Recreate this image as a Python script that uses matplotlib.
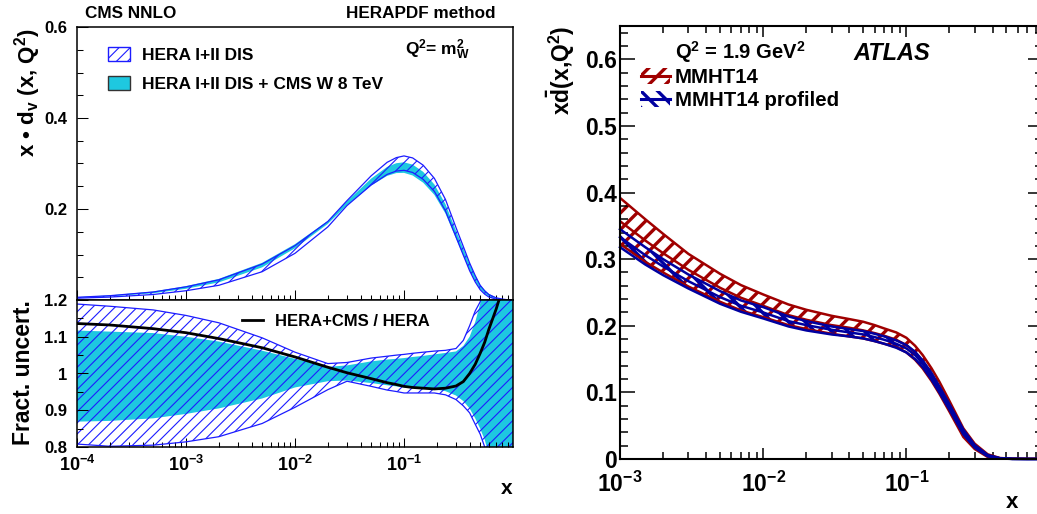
"""
Two PDF panels side by side: CMS W-asymmetry impact on x*d_v (left, with
fractional uncertainty ratio panel) and ATLAS profiled MMHT14 xdbar (right).
"""

import numpy as np
import matplotlib
matplotlib.use("Agg")
import matplotlib.pyplot as plt
from matplotlib.lines import Line2D
from matplotlib.patches import Patch
from matplotlib.ticker import (FixedLocator, FuncFormatter, LogLocator,
                               MultipleLocator, NullFormatter)

plt.rcParams.update({
    "font.family": ["Liberation Sans", "DejaVu Sans"],
    "font.weight": "bold",
    "mathtext.fontset": "custom",
    "mathtext.rm": "Liberation Sans:bold",
    "mathtext.bf": "Liberation Sans:bold",
    "mathtext.it": "Liberation Sans:italic:bold",
    "mathtext.sf": "Liberation Sans:bold",
    "hatch.linewidth": 0.8,
})

# ---- left panel: x*d_v at Q^2 = m_W^2 (HERAPDF method) ----
x_hera = [1e-4, 2e-4, 5e-4, 1e-3, 2e-3, 5e-3, 1e-2, 2e-2, 3e-2, 5e-2, 7e-2,
          0.085, 0.1, 0.12, 0.15, 0.19, 0.24, 0.3, 0.35, 0.4, 0.45, 0.5,
          0.55, 0.6, 0.7, 0.8, 0.9, 1.0]
hera_xdv = [0.005, 0.008, 0.015, 0.025, 0.039, 0.072, 0.113, 0.168, 0.212,
            0.262, 0.289, 0.298, 0.301, 0.296, 0.280, 0.252, 0.208, 0.149,
            0.108, 0.072, 0.046, 0.027, 0.016, 0.009, 0.003, 0.001, 0.0002,
            0.0]
# fractional uncertainties (lower panel)
hera_hi = [1.189, 1.183, 1.173, 1.158, 1.138, 1.097, 1.058, 1.027, 1.030,
           1.042, 1.047, 1.050, 1.052, 1.055, 1.058, 1.061, 1.063, 1.068,
           1.09, 1.13, 1.17, 1.195, 1.26, 1.35, 1.6, 1.9, 2.2, 2.4]
hera_lo = [0.808, 0.802, 0.805, 0.814, 0.828, 0.864, 0.908, 0.956, 0.979,
           0.965, 0.955, 0.951, 0.947, 0.947, 0.947, 0.947, 0.942, 0.929,
           0.912, 0.893, 0.862, 0.835, 0.80, 0.74, 0.60, 0.45, 0.30, 0.20]
cms_hi = [1.117, 1.114, 1.110, 1.100, 1.087, 1.062, 1.040, 1.018, 1.022,
          1.033, 1.038, 1.040, 1.042, 1.045, 1.048, 1.052, 1.056, 1.060,
          1.075, 1.10, 1.14, 1.19, 1.25, 1.33, 1.55, 1.8, 2.1, 2.3]
cms_lo = [0.869, 0.871, 0.878, 0.890, 0.905, 0.932, 0.962, 0.979, 0.981,
          0.974, 0.968, 0.965, 0.962, 0.961, 0.959, 0.957, 0.952, 0.940,
          0.925, 0.905, 0.878, 0.850, 0.82, 0.78, 0.65, 0.50, 0.35, 0.25]
ratio = [1.136, 1.132, 1.122, 1.111, 1.095, 1.070, 1.045, 1.017, 1.002,
         0.986, 0.975, 0.970, 0.965, 0.962, 0.960, 0.958, 0.960, 0.966,
         0.978, 1.0, 1.025, 1.055, 1.085, 1.12, 1.175, 1.23, 1.3, 1.4]

# ---- right panel: x*dbar at Q^2 = 1.9 GeV^2 (ATLAS) ----
x_atl = [1e-3, 1.5e-3, 2e-3, 3e-3, 5e-3, 7e-3, 1e-2, 1.5e-2, 2e-2, 3e-2,
         4e-2, 5e-2, 6e-2, 7e-2, 8.5e-2, 0.1, 0.115, 0.13, 0.15, 0.17, 0.2,
         0.25, 0.3, 0.37, 0.45, 0.55, 0.7, 0.9]
mmht_hi = [0.392, 0.360, 0.338, 0.308, 0.278, 0.261, 0.247, 0.232, 0.224,
           0.215, 0.210, 0.206, 0.201, 0.196, 0.190, 0.182, 0.170, 0.156,
           0.136, 0.116, 0.087, 0.046, 0.023, 0.007, 0.0015, 0.0003, 0.0,
           0.0]
mmht_c = [0.357, 0.328, 0.309, 0.284, 0.257, 0.242, 0.230, 0.216, 0.209,
          0.201, 0.197, 0.193, 0.189, 0.185, 0.179, 0.171, 0.160, 0.146,
          0.127, 0.107, 0.079, 0.040, 0.019, 0.005, 0.001, 0.0002, 0.0, 0.0]
mmht_lo = [0.323, 0.296, 0.280, 0.259, 0.236, 0.223, 0.213, 0.201, 0.195,
           0.188, 0.184, 0.181, 0.177, 0.173, 0.168, 0.160, 0.149, 0.136,
           0.117, 0.098, 0.071, 0.033, 0.015, 0.003, 0.0005, 0.0001, 0.0,
           0.0]
prof_hi = [0.345, 0.318, 0.300, 0.277, 0.252, 0.238, 0.228, 0.214, 0.207,
           0.199, 0.195, 0.192, 0.188, 0.184, 0.178, 0.171, 0.161, 0.148,
           0.129, 0.109, 0.082, 0.044, 0.021, 0.006, 0.0012, 0.0002, 0.0,
           0.0]
prof_c = [0.333, 0.306, 0.289, 0.267, 0.243, 0.230, 0.220, 0.207, 0.201,
          0.194, 0.190, 0.187, 0.183, 0.179, 0.173, 0.166, 0.156, 0.143,
          0.124, 0.105, 0.078, 0.040, 0.019, 0.005, 0.001, 0.0002, 0.0, 0.0]
prof_lo = [0.318, 0.292, 0.276, 0.256, 0.233, 0.221, 0.211, 0.199, 0.193,
           0.187, 0.184, 0.181, 0.177, 0.173, 0.167, 0.160, 0.150, 0.138,
           0.119, 0.100, 0.074, 0.037, 0.017, 0.004, 0.0008, 0.0001, 0.0,
           0.0]

CYAN = "#1ec8e0"
HBLUE = "#1c1cff"
RED = "#a00000"
DBLUE = "#0000a0"

W, H = 1037, 514
fig = plt.figure(figsize=(W / 100, H / 100), dpi=100)


def px_axes(left, top, right, bottom):
    """Axes placed by pixel edges measured from the top-left corner."""
    return fig.add_axes([left / W, 1 - bottom / H, (right - left) / W,
                         (bottom - top) / H])


def hatch_lw(artist, lw):
    if hasattr(artist, "set_hatch_linewidth"):
        artist.set_hatch_linewidth(lw)


def log_xaxis(ax, lo, hi, majors):
    ax.set_xscale("log")
    ax.set_xlim(lo, hi)
    ax.xaxis.set_major_locator(FixedLocator(majors))
    ax.xaxis.set_major_formatter(
        FuncFormatter(lambda v, _: r"$10^{%d}$" % round(np.log10(v))))
    ax.xaxis.set_minor_locator(LogLocator(base=10, subs=np.arange(2, 10),
                                          numticks=20))
    ax.xaxis.set_minor_formatter(NullFormatter())


xh = np.array(x_hera)
xdv = np.array(hera_xdv)
cms_xdv = xdv * np.array(ratio)

# ---------------- left, upper ----------------
ax_t = px_axes(77, 27, 513, 300)
ax_t.fill_between(xh, cms_xdv * np.array(cms_lo), cms_xdv * np.array(cms_hi),
                  facecolor=CYAN, edgecolor="none", lw=0)
band = ax_t.fill_between(xh, xdv * np.array(hera_lo), xdv * np.array(hera_hi),
                         facecolor="none", edgecolor=HBLUE, lw=0, hatch="///")
hatch_lw(band, 0.8)
ax_t.plot(xh, xdv * np.array(hera_lo), color=HBLUE, lw=0.9)
ax_t.plot(xh, xdv * np.array(hera_hi), color=HBLUE, lw=0.9)
ax_t.set_ylim(0, 0.6)
ax_t.yaxis.set_major_locator(FixedLocator([0.2, 0.4, 0.6]))
ax_t.yaxis.set_minor_locator(MultipleLocator(0.05))
ax_t.yaxis.set_major_formatter(FuncFormatter(lambda v, _: "%g" % v))
log_xaxis(ax_t, 1e-4, 1.0, [1e-4, 1e-3, 1e-2, 1e-1])
ax_t.tick_params(which="both", direction="in", top=False, right=False,
                 labelbottom=False, width=0.75, labelsize=12, pad=7)
ax_t.tick_params(axis="y", which="major", length=8)
ax_t.tick_params(axis="y", which="minor", length=4)
ax_t.tick_params(axis="x", which="major", length=7)
ax_t.tick_params(axis="x", which="minor", length=3.5)

with plt.rc_context({"hatch.linewidth": 0.8}):
    ax_t.legend(handles=[Patch(facecolor="white", edgecolor=HBLUE,
                               hatch="///", lw=1),
                         Patch(facecolor=CYAN, edgecolor="#333333", lw=1)],
                labels=["HERA I+II DIS", "HERA I+II DIS + CMS W 8 TeV"],
                loc="upper left", bbox_to_anchor=(108 / W, 1 - 47 / H),
                bbox_transform=fig.transFigure, frameon=False, fontsize=12.5,
                handlelength=1.27, handleheight=0.87, handletextpad=0.7,
                labelspacing=0.72, borderpad=0, borderaxespad=0)
fig.text(405 / W, 1 - 50 / H, r"Q$^{2}$= m$_{\mathrm{W}}^{2}$",
         fontsize=12.5, va="center")

# ---------------- left, lower ----------------
ax_b = px_axes(77, 300, 513, 447)
ax_b.fill_between(xh, cms_lo, cms_hi, facecolor=CYAN, edgecolor="none", lw=0)
band = ax_b.fill_between(xh, hera_lo, hera_hi, facecolor="none",
                         edgecolor=HBLUE, lw=0, hatch="///")
hatch_lw(band, 0.8)
ax_b.plot(xh, hera_lo, color=HBLUE, lw=0.9)
ax_b.plot(xh, hera_hi, color=HBLUE, lw=0.9)
ax_b.plot(xh, ratio, color="black", lw=2.0, label="HERA+CMS / HERA")
ax_b.set_ylim(0.8, 1.2)
ax_b.yaxis.set_major_locator(FixedLocator([0.8, 0.9, 1.0, 1.1, 1.2]))
ax_b.yaxis.set_minor_locator(MultipleLocator(0.05))
ax_b.yaxis.set_major_formatter(FuncFormatter(lambda v, _: "%g" % round(v, 2)))
log_xaxis(ax_b, 1e-4, 1.0, [1e-4, 1e-3, 1e-2, 1e-1])
ax_b.tick_params(which="both", direction="in", top=False, right=False,
                 width=0.75, labelsize=12)
ax_b.tick_params(axis="y", which="major", length=8, pad=7)
ax_b.tick_params(axis="y", which="minor", length=4)
ax_b.tick_params(axis="x", which="major", length=6.5, pad=6, labelsize=13)
ax_b.tick_params(axis="x", which="minor", length=3.5)
ax_b.legend(loc="center left", bbox_to_anchor=(242 / W, 1 - 321 / H),
            bbox_transform=fig.transFigure, frameon=False, fontsize=12,
            handlelength=1.26, handletextpad=0.72, borderpad=0,
            borderaxespad=0)

for ax in (ax_t, ax_b):
    for s in ax.spines.values():
        s.set_linewidth(1.1)

fig.text(28 / W, 1 - 28 / H, r"x • d$_{\mathrm{v}}$ (x, Q$^{2}$)",
         rotation=90, ha="center", va="top", fontsize=16)
fig.text(24 / W, 1 - 373 / H, "Fract. uncert.", rotation=90, ha="center",
         va="center", fontsize=16.5)
fig.text(507 / W, 1 - 489 / H, "x", ha="center", va="center", fontsize=15)
fig.text(85 / W, 1 - 13 / H, "CMS NNLO", ha="left", va="center",
         fontsize=12.3)
fig.text(495 / W, 1 - 13 / H, "HERAPDF method", ha="right", va="center",
         fontsize=12.3)

# ---------------- right panel ----------------
ax_r = px_axes(620, 26, 1043, 459)
xa = np.array(x_atl)
band = ax_r.fill_between(xa, mmht_lo, mmht_hi, facecolor="none",
                         edgecolor=RED, lw=0, hatch="//")
hatch_lw(band, 2.4)
for y in (mmht_hi, mmht_c, mmht_lo):
    ax_r.plot(xa, y, color=RED, lw=1.8)
band = ax_r.fill_between(xa, prof_lo, prof_hi, facecolor="none",
                         edgecolor=DBLUE, lw=0, hatch="\\\\")
hatch_lw(band, 2.4)
for y in (prof_hi, prof_c, prof_lo):
    ax_r.plot(xa, y, color=DBLUE, lw=1.8, clip_on=False)

ax_r.set_ylim(0, 0.65)
ax_r.yaxis.set_major_locator(MultipleLocator(0.1))
ax_r.yaxis.set_minor_locator(MultipleLocator(0.02))
ax_r.yaxis.set_major_formatter(
    FuncFormatter(lambda v, _: "0" if abs(v) < 1e-9 else "%.1f" % v))
log_xaxis(ax_r, 1e-3, 0.9, [1e-3, 1e-2, 1e-1])
ax_r.tick_params(which="both", direction="in", top=True, right=True,
                 width=1.1, labelsize=16.5)
ax_r.tick_params(axis="y", which="major", length=11, pad=2.5)
ax_r.tick_params(axis="y", which="minor", length=5.5)
ax_r.tick_params(axis="x", which="major", length=8, pad=9)
ax_r.tick_params(axis="x", which="minor", length=5)
for s in ax_r.spines.values():
    s.set_linewidth(1.5)

with plt.rc_context({"hatch.linewidth": 2.4}):
    ax_r.legend(handles=[(Patch(facecolor="none", edgecolor=RED, hatch="//",
                                lw=0),
                          Line2D([], [], color=RED, lw=2.2)),
                         (Patch(facecolor="none", edgecolor=DBLUE,
                                hatch="\\\\", lw=0),
                          Line2D([], [], color=DBLUE, lw=2.2))],
                labels=["MMHT14", "MMHT14 profiled"],
                loc="upper left", bbox_to_anchor=(641 / W, 1 - 68 / H),
                bbox_transform=fig.transFigure, frameon=False, fontsize=14.7,
                handlelength=1.42, handleheight=0.83, handletextpad=0.25,
                labelspacing=0.2, borderpad=0, borderaxespad=0)

fig.text(675 / W, 1 - 52 / H, r"Q$^{2}$ = 1.9 GeV$^{2}$", fontsize=14.5,
         va="center")
fig.text(853 / W, 1 - 53 / H, "ATLAS", fontsize=17, style="italic",
         va="center")
fig.text(561 / W, 1 - 26 / H, r"x$\bar{\mathrm{d}}$(x,Q$^{2}$)",
         rotation=90, ha="center", va="top", fontsize=16.5)
fig.text(1012 / W, 1 - 502 / H, "x", ha="center", va="center", fontsize=16)

fig.savefig("out.png", dpi=100)
